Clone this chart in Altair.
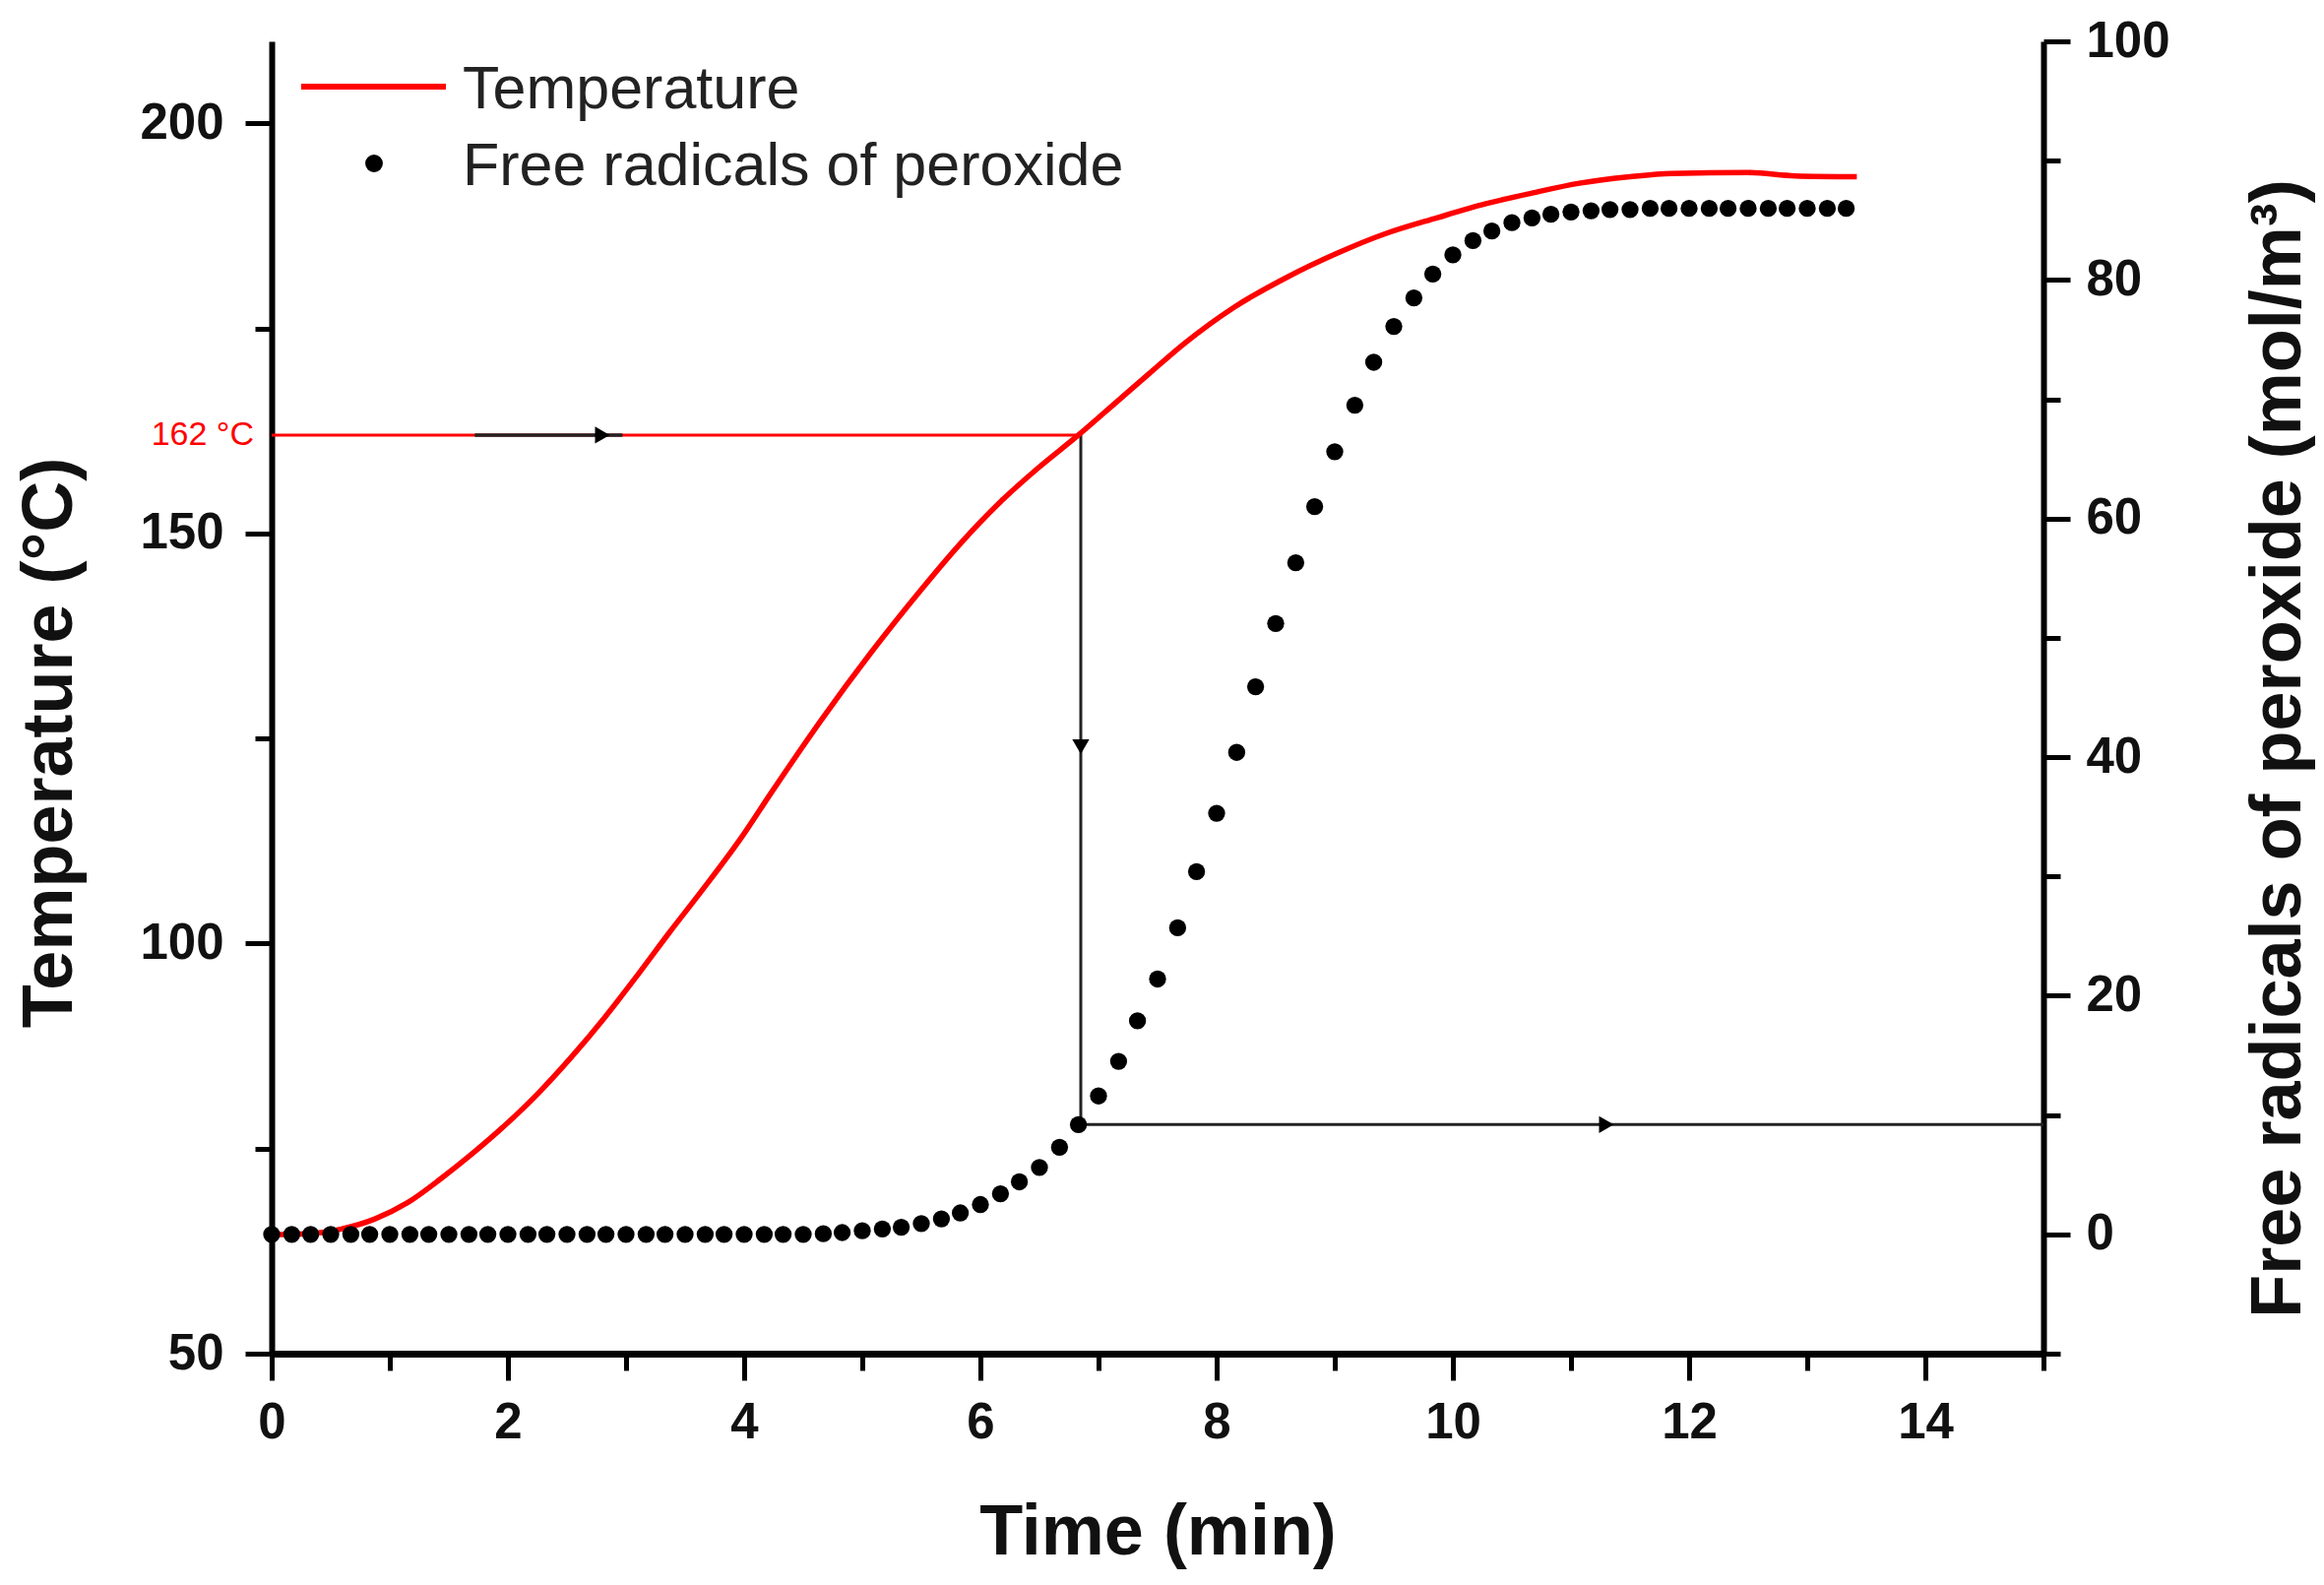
import altair as alt
import pandas as pd

# ---------------- data ----------------
temp_time = [0.0, 0.3, 0.59, 0.87, 1.15, 1.43, 1.70, 1.98, 2.26, 2.54, 2.82, 3.10, 3.37, 3.65,
             3.98, 4.23, 4.65, 5.07, 5.49, 5.82, 6.18, 6.49, 6.83, 7.15, 7.43, 7.73,
             8.15, 8.59, 9.01, 9.42, 9.87, 10.28, 10.67, 11.07, 11.5, 11.85, 12.5, 12.9, 13.42]
temp_val = [64.5, 64.6, 65.2, 66.4, 68.4, 71.3, 74.4, 77.9, 81.8, 86.2, 91.0, 96.2, 101.4, 106.6,
            113.0, 118.4, 127.2, 135.4, 143.0, 148.6, 154.0, 158.0, 162.0, 166.0, 169.5, 173.2,
            177.6, 181.2, 184.1, 186.5, 188.5, 190.2, 191.5, 192.7, 193.5, 193.9, 194.0, 193.6, 193.5]

rad_time = [0.00, 0.17, 0.33, 0.50, 0.67, 0.83, 1.00, 1.17, 1.33, 1.50, 1.67, 1.83, 2.00, 2.17,
            2.33, 2.50, 2.67, 2.83, 3.00, 3.17, 3.33, 3.50, 3.67, 3.83, 4.00, 4.17, 4.33, 4.50,
            4.67, 4.83, 5.00, 5.17, 5.33, 5.50, 5.67, 5.83, 6.00, 6.17, 6.33, 6.50, 6.67, 6.83,
            7.00, 7.17, 7.33, 7.50, 7.67, 7.83, 8.00, 8.17, 8.33, 8.50, 8.67, 8.83, 9.00, 9.17,
            9.33, 9.50, 9.67, 9.83, 10.00, 10.17, 10.33, 10.50, 10.67, 10.83, 11.00, 11.17, 11.33,
            11.50, 11.67, 11.83, 12.00, 12.17, 12.33, 12.50, 12.67, 12.83, 13.00, 13.17, 13.33]
rad_val = [0, 0, 0, 0, 0, 0, 0, 0, 0, 0, 0, 0, 0, 0,
           0, 0, 0, 0, 0, 0, 0, 0, 0, 0, 0, 0, 0, 0,
           0.05, 0.15, 0.3, 0.45, 0.6, 0.9, 1.3, 1.8, 2.5, 3.4, 4.4, 5.6, 7.3, 9.2,
           11.6, 14.5, 17.9, 21.4, 25.7, 30.4, 35.3, 40.4, 45.9, 51.2, 56.3, 61.0, 65.6, 69.5,
           73.1, 76.1, 78.5, 80.5, 82.1, 83.3, 84.1, 84.8, 85.2, 85.5, 85.7, 85.8, 85.9,
           85.9, 86.0, 86.0, 86.0, 86.0, 86.0, 86.0, 86.0, 86.0, 86.0, 86.0, 86.0]

x_ticks = list(range(0, 16))
t_ticks = [50, 75, 100, 125, 150, 175, 200]
r_ticks = [-10, 0, 10, 20, 30, 40, 50, 60, 70, 80, 90, 100]
x_domain = [0, 15]
t_domain = [50, 210]
r_domain = [-10, 100]

mark_temp = [162]          # 162 °C guide
cross_time = [6.85]        # time where T = 162 °C
cross_rad = [9.2]          # radical level at that time
black_seg = [1.72, 2.97]   # black piece over the 162 guide
arrow1_t = [2.8]
arrow2_T = [124]
arrow3_t = [11.3]
mark_label = ["162 °C"]
legend_labels = ["Temperature", "Free radicals of peroxide"]

FONT = "Liberation Sans, Arial, Helvetica, sans-serif"


def r_to_t(r):
    return t_domain[0] + (r - r_domain[0]) * (t_domain[1] - t_domain[0]) / (r_domain[1] - r_domain[0])


def cond(test, major, minor):
    return {"condition": {"test": test, "value": major}, "value": minor}


common = dict(grid=False, labelFont=FONT, labelFontWeight="bold", labelFontSize=51,
              labelColor="#111", titleFont=FONT, titleFontWeight="bold", titleFontSize=72,
              titleColor="#111", domainColor="black", tickColor="black", tickWidth=5,
              labelOverlap=False, labelFlush=False)

x_axis = alt.Axis(values=x_ticks, labelExpr="datum.value % 2 === 0 ? datum.label : ''",
                  tickSize=cond("datum.value % 2 === 0", 27, 17), labelPadding=18,
                  domainWidth=7, title="Time (min)", titleY=203, titleBaseline="alphabetic",
                  **common)
left_axis = alt.Axis(orient="left", values=t_ticks,
                     labelExpr="datum.value % 50 === 0 ? datum.label : ''",
                     tickSize=cond("datum.value % 50 === 0", 27, 17), labelPadding=22,
                     domainWidth=6, title="Temperature (°C)", titleAngle=270, titleX=-204,
                     titleY=712, titleAlign="center", titleBaseline="alphabetic", **common)
right_axis = alt.Axis(orient="right", values=r_ticks,
                      labelExpr="datum.value % 20 === 0 ? datum.label : ''",
                      tickSize=cond("datum.value % 20 === 0", 27, 17), labelPadding=16,
                      domainWidth=6, title="Free radicals of peroxide (mol/m³)", titleAngle=270,
                      titleX=260, titleY=718, titleAlign="center", titleBaseline="alphabetic",
                      **common)

X = lambda f: alt.X(f, type="quantitative", scale=alt.Scale(domain=x_domain, nice=False, zero=False), axis=x_axis)
X2 = lambda f: alt.X2(f)
YT = lambda f: alt.Y(f, type="quantitative", scale=alt.Scale(domain=t_domain, nice=False, zero=False), axis=left_axis)
YR = lambda f: alt.Y(f, type="quantitative", scale=alt.Scale(domain=r_domain, nice=False, zero=False), axis=right_axis)

temp_df = pd.DataFrame({"t": temp_time, "T": temp_val})
rad_df = pd.DataFrame({"t": rad_time, "R": rad_val})

guide_df = pd.DataFrame({"x0": [x_domain[0]], "x1": cross_time, "y": mark_temp})
seg_df = pd.DataFrame({"x0": [black_seg[0]], "x1": [black_seg[1]], "y": mark_temp})
arrow1_df = pd.DataFrame({"x": arrow1_t, "y": mark_temp})
vert_df = pd.DataFrame({"x": cross_time, "y0": mark_temp, "y1": [r_to_t(cross_rad[0])]})
arrow2_df = pd.DataFrame({"x": cross_time, "y": arrow2_T})
label_df = pd.DataFrame({"y": mark_temp, "label": mark_label})
horiz_df = pd.DataFrame({"x0": cross_time, "x1": [x_domain[1]], "y": cross_rad})
arrow3_df = pd.DataFrame({"x": arrow3_t, "y": cross_rad})
leg_df = pd.DataFrame({"label": legend_labels})

guide = alt.Chart(guide_df).mark_rule(color="#ff0000", strokeWidth=3).encode(
    x=X("x0"), x2=X2("x1"), y=YT("y"))
seg = alt.Chart(seg_df).mark_rule(color="#222", strokeWidth=3.5).encode(
    x=X("x0"), x2=X2("x1"), y=YT("y"))
arrow1 = alt.Chart(arrow1_df).mark_point(shape="triangle-right", filled=True, size=300,
                                          color="black", opacity=1).encode(x=X("x"), y=YT("y"))
vert = alt.Chart(vert_df).mark_rule(color="#222", strokeWidth=3).encode(
    x=X("x"), y=YT("y0"), y2=alt.Y2("y1"))
arrow2 = alt.Chart(arrow2_df).mark_point(shape="triangle-down", filled=True, size=300,
                                          color="black", opacity=1).encode(x=X("x"), y=YT("y"))
label = alt.Chart(label_df).mark_text(align="right", baseline="middle", fontSize=34,
                                      font=FONT, color="#ff0000").encode(
    x=alt.value(-18), y=YT("y"), text="label:N")
temp_line = alt.Chart(temp_df).mark_line(color="#ff0000", strokeWidth=5.5,
                                         interpolate="monotone").encode(x=X("t"), y=YT("T"))

leg_line = alt.Chart(leg_df.iloc[[0]]).mark_rule(color="#ff0000", strokeWidth=6).encode(
    x=alt.value(30), x2=alt.value(177), y=alt.value(46))
leg_dot = alt.Chart(leg_df.iloc[[1]]).mark_point(shape="circle", filled=True, size=320,
                                                  color="black", opacity=1).encode(
    x=alt.value(104), y=alt.value(124))
leg_t1 = alt.Chart(leg_df.iloc[[0]]).mark_text(align="left", baseline="alphabetic", fontSize=61,
                                               font=FONT, color="#222").encode(
    x=alt.value(194), y=alt.value(68), text="label:N")
leg_t2 = alt.Chart(leg_df.iloc[[1]]).mark_text(align="left", baseline="alphabetic", fontSize=61,
                                               font=FONT, color="#222").encode(
    x=alt.value(194), y=alt.value(146), text="label:N")

dots = alt.Chart(rad_df).mark_point(shape="circle", filled=True, size=300, color="black",
                                    opacity=1).encode(x=X("t"), y=YR("R"))
horiz = alt.Chart(horiz_df).mark_rule(color="#222", strokeWidth=3).encode(
    x=X("x0"), x2=X2("x1"), y=YR("y"))
arrow3 = alt.Chart(arrow3_df).mark_point(shape="triangle-right", filled=True, size=300,
                                          color="black", opacity=1).encode(x=X("x"), y=YR("y"))

left_group = alt.layer(guide, seg, arrow1, vert, arrow2, label, temp_line,
                       leg_line, leg_dot, leg_t1, leg_t2)
right_group = alt.layer(horiz, arrow3, dots)

chart = alt.layer(left_group, right_group).resolve_scale(y="independent").properties(
    width=1800, height=1333,
    padding={"left": 268, "top": 34, "right": 277, "bottom": 222},
    autosize=alt.AutoSizeParams(type="none"),
    background="white",
).configure_view(stroke=None)

chart.save("out.html", embed_options={"renderer": "svg", "actions": False})
